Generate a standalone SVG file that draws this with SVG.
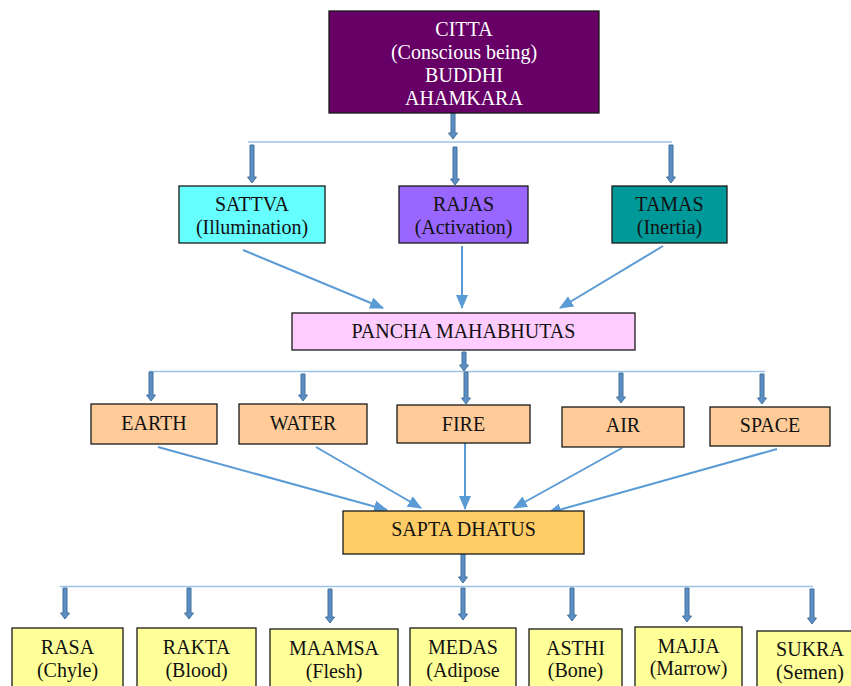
<svg xmlns="http://www.w3.org/2000/svg" width="851" height="686" viewBox="0 0 851 686">
  <style>
    .box { stroke: #1a1a1a; stroke-width: 1.3; }
    .shadow { fill: #9a9a9a; }
    .t { font-family: "Liberation Serif", "Times New Roman", serif; font-size: 20px; text-anchor: middle; fill: #111; }
    .tw { fill: #ffffff; }
    .bar { fill: none; stroke: #9dc3e6; stroke-width: 1.6; }
    .link { fill: none; stroke: #5b9bd5; stroke-width: 2; marker-end: url(#head); }
    .blk { fill: #5b8fc4; stroke: #41719c; stroke-width: 1; }
  </style>
  <defs>
    <marker id="head" markerUnits="userSpaceOnUse" markerWidth="14" markerHeight="12" viewBox="0 0 14 12" refX="13" refY="6" orient="auto">
      <path d="M0,0 L14,6 L0,12 Z" fill="#5b9bd5"/>
    </marker>
  </defs>

  <rect width="851" height="686" fill="#ffffff"/>

  <!-- connectors -->
  <g id="connectors">
    <!-- distribution bars -->
    <path class="bar" d="M248,142 H672"/>
    <path class="bar" d="M149,371.5 H765"/>
    <path class="bar" d="M60,586.5 H813"/>

    <!-- block arrows -->
    <path class="blk" d="M451,113 H455 V133 H457.5 L453,139 L448.5,133 H451 Z"/>
    <path class="blk" d="M250,145 H254 V177 H256.5 L252,183 L247.5,177 H250 Z"/>
    <path class="blk" d="M453,147 H457 V179 H459.5 L455,185 L450.5,179 H453 Z"/>
    <path class="blk" d="M669,145 H673 V177 H675.5 L671,183 L666.5,177 H669 Z"/>

    <path class="blk" d="M462,352 H466 V365 H468.5 L464,371 L459.5,365 H462 Z"/>
    <path class="blk" d="M149,372 H153 V395 H155.5 L151,401 L146.5,395 H149 Z"/>
    <path class="blk" d="M301,374 H305 V395 H307.5 L303,401 L298.5,395 H301 Z"/>
    <path class="blk" d="M464,372 H468 V398 H470.5 L466,404 L461.5,398 H464 Z"/>
    <path class="blk" d="M619,373 H623 V397 H625.5 L621,403 L616.5,397 H619 Z"/>
    <path class="blk" d="M760,374 H764 V398 H766.5 L762,404 L757.5,398 H760 Z"/>

    <path class="blk" d="M461,554 H465 V577 H467.5 L463,583 L458.5,577 H461 Z"/>
    <path class="blk" d="M63,588 H67 V613 H69.5 L65,619 L60.5,613 H63 Z"/>
    <path class="blk" d="M187,588 H191 V613 H193.5 L189,619 L184.5,613 H187 Z"/>
    <path class="blk" d="M328,589 H332 V617 H334.5 L330,623 L325.5,617 H328 Z"/>
    <path class="blk" d="M461,588 H465 V614 H467.5 L463,620 L458.5,614 H461 Z"/>
    <path class="blk" d="M570,588 H574 V615 H576.5 L572,621 L567.5,615 H570 Z"/>
    <path class="blk" d="M685,588 H689 V616 H691.5 L687,622 L682.5,616 H685 Z"/>
    <path class="blk" d="M810,589 H814 V618 H816.5 L812,624 L807.5,618 H810 Z"/>

    <!-- gunas to mahabhutas -->
    <path class="link" d="M243,250 L383,308"/>
    <path class="link" d="M462,246 L462,308"/>
    <path class="link" d="M663,246 L560,308"/>

    <!-- elements to dhatus -->
    <path class="link" d="M158,447 L387,510"/>
    <path class="link" d="M316,447 L421,508"/>
    <path class="link" d="M465,443 L465,509"/>
    <path class="link" d="M622,448 L514,508"/>
    <path class="link" d="M777,449 L548,513"/>
  </g>

  <!-- top -->
  <g id="citta">
    <rect class="box" x="329" y="11" width="270" height="102" fill="#660066"/>
    <text class="t tw" x="464" y="35.5">CITTA</text>
    <text class="t tw" x="464" y="58.5">(Conscious being)</text>
    <text class="t tw" x="464" y="81.5">BUDDHI</text>
    <text class="t tw" x="464" y="104.5">AHAMKARA</text>
  </g>

  <!-- gunas -->
  <g id="sattva">
    <rect class="box" x="179" y="186" width="146" height="57" fill="#66ffff"/>
    <text class="t" x="252" y="211">SATTVA</text>
    <text class="t" x="252" y="234">(Illumination)</text>
  </g>
  <g id="rajas">
    <rect class="box" x="399" y="186" width="129" height="57" fill="#9966ff"/>
    <text class="t" x="463.5" y="211">RAJAS</text>
    <text class="t" x="463.5" y="234">(Activation)</text>
  </g>
  <g id="tamas">
    <rect class="box" x="612" y="186" width="115" height="57" fill="#009999"/>
    <text class="t" x="669.5" y="211">TAMAS</text>
    <text class="t" x="669.5" y="234">(Inertia)</text>
  </g>

  <g id="pancha">
    <rect class="box" x="292" y="313" width="343" height="37" fill="#ffccff"/>
    <text class="t" x="463.5" y="338">PANCHA MAHABHUTAS</text>
  </g>

  <!-- elements -->
  <g id="earth">
    <rect class="box" x="91" y="404" width="126" height="40" fill="#ffcc99"/>
    <text class="t" x="154" y="430">EARTH</text>
  </g>
  <g id="water">
    <rect class="box" x="239" y="404" width="128" height="40" fill="#ffcc99"/>
    <text class="t" x="303" y="430">WATER</text>
  </g>
  <g id="fire">
    <rect class="box" x="397" y="405" width="133" height="38" fill="#ffcc99"/>
    <text class="t" x="463.5" y="431">FIRE</text>
  </g>
  <g id="air">
    <rect class="box" x="562" y="407" width="122" height="40" fill="#ffcc99"/>
    <text class="t" x="623" y="432">AIR</text>
  </g>
  <g id="space">
    <rect class="box" x="710" y="407" width="120" height="39" fill="#ffcc99"/>
    <text class="t" x="770" y="432">SPACE</text>
  </g>

  <g id="sapta">
    <rect class="box" x="343" y="511" width="241" height="43" fill="#ffcc66"/>
    <text class="t" x="463.5" y="536">SAPTA DHATUS</text>
  </g>

  <!-- dhatus -->
  <g id="rasa">
    <rect class="box" x="12" y="628" width="111" height="70" fill="#ffff99"/>
    <text class="t" x="67.5" y="654">RASA</text>
    <text class="t" x="67.5" y="677">(Chyle)</text>
  </g>
  <g id="rakta">
    <rect class="box" x="137" y="628" width="119" height="70" fill="#ffff99"/>
    <text class="t" x="196.5" y="654">RAKTA</text>
    <text class="t" x="196.5" y="677">(Blood)</text>
  </g>
  <g id="maamsa">
    <rect class="box" x="270" y="629" width="128" height="70" fill="#ffff99"/>
    <text class="t" x="334" y="655">MAAMSA</text>
    <text class="t" x="334" y="678">(Flesh)</text>
  </g>
  <g id="medas">
    <rect class="box" x="410" y="628" width="106" height="70" fill="#ffff99"/>
    <text class="t" x="463" y="654">MEDAS</text>
    <text class="t" x="463" y="677">(Adipose</text>
  </g>
  <g id="asthi">
    <rect class="box" x="529" y="629" width="93" height="70" fill="#ffff99"/>
    <text class="t" x="575.5" y="655">ASTHI</text>
    <text class="t" x="575.5" y="677">(Bone)</text>
  </g>
  <g id="majja">
    <rect class="box" x="635" y="627" width="107" height="70" fill="#ffff99"/>
    <text class="t" x="688.5" y="653">MAJJA</text>
    <text class="t" x="688.5" y="675">(Marrow)</text>
  </g>
  <g id="sukra">
    <rect class="box" x="757" y="631" width="110" height="70" fill="#ffff99"/>
    <text class="t" x="810" y="656">SUKRA</text>
    <text class="t" x="810" y="679">(Semen)</text>
  </g>
</svg>
